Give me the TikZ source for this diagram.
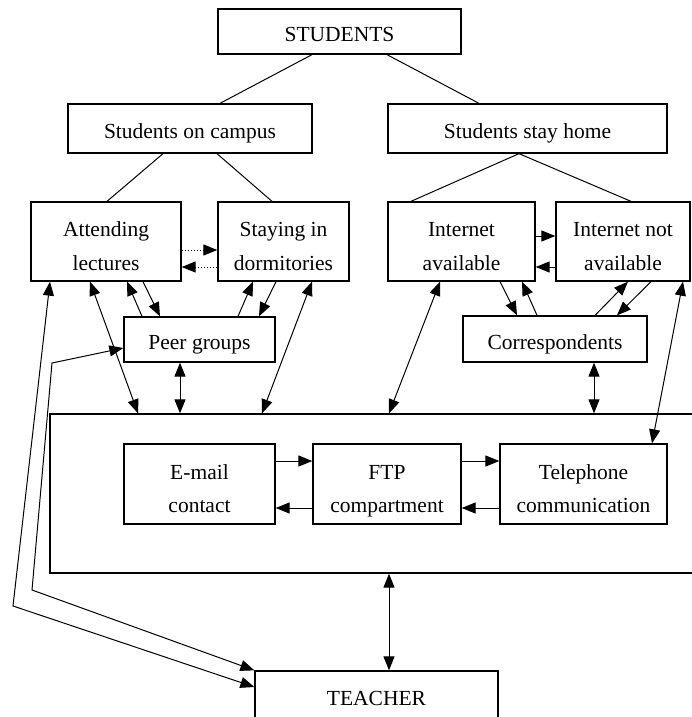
\documentclass[tikz,border=0pt]{standalone}
\usepackage{fontspec}
\setmainfont{Liberation Serif}
\usetikzlibrary{arrows.meta}
% box labels: baseline placed a fixed distance from the box centre
\newcommand\oneline[1]{\raisebox{-10pt}[0pt][0pt]{#1}}
\newcommand\twoline[2]{\raisebox{4.75pt}[0pt][0pt]{\vtop{\halign{\hfil##\hfil\cr#1\cr#2\cr}}}}
\begin{document}
\begin{tikzpicture}[x=1pt,y=-1pt,
  box/.style={draw, line width=1.3pt, rectangle, inner sep=0pt,
    font=\fontsize{21.5}{33.5}\selectfont},
  link/.style={line width=1pt},
  arr/.style={link, -{Triangle[length=14pt,width=11pt]}},
  dbl/.style={link, {Triangle[length=14pt,width=11pt]}-{Triangle[length=14pt,width=11pt]}},
]
\clip (0,0) rectangle (692,717);

% --- boxes ---
\node[box, minimum width=243pt, minimum height=45pt] (stu)  at (339.5,31.5) {\oneline{STUDENTS}};
\node[box, minimum width=244pt, minimum height=49pt] (soc)  at (190,128.5)  {\oneline{Students on campus}};
\node[box, minimum width=279pt, minimum height=49pt] (ssh)  at (527.5,128.5) {\oneline{Students stay home}};
\node[box, minimum width=150pt, minimum height=79pt] (att)  at (106,241.5)  {\twoline{Attending}{lectures}};
\node[box, minimum width=131pt, minimum height=79pt] (sty)  at (283.5,241.5) {\twoline{Staying in}{dormitories}};
\node[box, minimum width=147pt, minimum height=79pt] (ia)   at (461.5,241.5) {\twoline{Internet}{available}};
\node[box, minimum width=134pt, minimum height=79pt] (ina)  at (623,241.5)  {\twoline{Internet not}{available}};
\node[box, minimum width=151pt, minimum height=45pt] (peer) at (199.5,339.5) {\oneline{Peer groups}};
\node[box, minimum width=184pt, minimum height=46pt] (corr) at (555,339)    {\oneline{Correspondents}};
\node[box, minimum width=660pt, minimum height=159pt] (hub) at (380,493.5)  {};
\node[box, minimum width=151pt, minimum height=80pt] (mail) at (199.5,484)  {\twoline{E-mail}{contact}};
\node[box, minimum width=148pt, minimum height=80pt] (ftp)  at (387,484)    {\twoline{FTP}{compartment}};
\node[box, minimum width=167pt, minimum height=80pt] (tel)  at (583.5,484)  {\twoline{Telephone}{communication}};
\node[box, minimum width=243pt, minimum height=48pt] (tea)  at (376.5,695)  {\oneline{TEACHER}};

% bend points of the two long links to the teacher
\coordinate (bendA) at (13,606);
\coordinate (bendB1) at (52,363);
\coordinate (bendB2) at (32,590);

% --- hierarchy lines ---
\draw[link] (312,0 |- stu.south) -- (220,0 |- soc.north);
\draw[link] (387,0 |- stu.south) -- (479,0 |- ssh.north);
\draw[link] (163,0 |- soc.south) -- (107,0 |- att.north);
\draw[link] (217,0 |- soc.south) -- (272,0 |- sty.north);
\draw[link] (519,0 |- ssh.south) -- (411,0 |- ia.north);
\draw[link] (519,0 |- ssh.south) -- (631,0 |- ina.north);

% --- side-by-side exchanges ---
\draw[arr, dotted] (att.east |- 0,250) -- (sty.west |- 0,250);
\draw[arr, dotted] (sty.west |- 0,267) -- (att.east |- 0,267);
\draw[arr] (ia.east |- 0,236) -- (ina.west |- 0,236);
\draw[arr] (ina.west |- 0,267) -- (ia.east |- 0,267);

% --- peer groups ---
\draw[arr] (142,0 |- peer.north) -- (127,0 |- att.south);
\draw[arr] (143,0 |- att.south) -- (160,0 |- peer.north);
\draw[arr] (238,0 |- peer.north) -- (253,0 |- sty.south);
\draw[arr] (276,0 |- sty.south) -- (259,0 |- peer.north);

% --- correspondents ---
\draw[arr] (500,0 |- ia.south) -- (517,0 |- corr.north);
\draw[arr] (537,0 |- corr.north) -- (522,0 |- ia.south);
\draw[arr] (595,0 |- corr.north) -- (628,0 |- ina.south);
\draw[arr] (651,0 |- ina.south) -- (617,0 |- corr.north);

% --- links into the communication block ---
\draw[dbl] (90,0 |- att.south) -- (138,0 |- hub.north);
\draw[dbl] (180,0 |- peer.south) -- (180,0 |- hub.north);
\draw[dbl] (312,0 |- sty.south) -- (262,0 |- hub.north);
\draw[dbl] (440,0 |- ia.south) -- (389,0 |- hub.north);
\draw[dbl] (594,0 |- corr.south) -- (594,0 |- hub.north);
\draw[dbl] (683,0 |- ina.south) -- (652,0 |- tel.north);

% --- channels ---
\draw[arr] (mail.east |- 0,461) -- (ftp.west |- 0,461);
\draw[arr] (ftp.west |- 0,508) -- (mail.east |- 0,508);
\draw[arr] (ftp.east |- 0,461) -- (tel.west |- 0,461);
\draw[arr] (tel.west |- 0,508) -- (ftp.east |- 0,508);

% --- teacher ---
\draw[dbl] (389,0 |- hub.south) -- (389,0 |- tea.north);
\draw[dbl] (50,0 |- att.south) -- (bendA) -- (tea.west |- 0,687);
\draw[dbl] (peer.west |- 0,348) -- (bendB1) -- (bendB2) -- (tea.north west);
\end{tikzpicture}
\end{document}
